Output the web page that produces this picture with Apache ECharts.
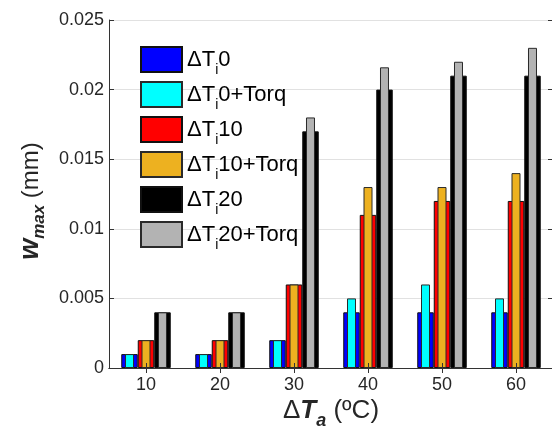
<!DOCTYPE html>
<html>
<head>
<meta charset="utf-8">
<script src="https://cdn.jsdelivr.net/npm/echarts@6/dist/echarts.min.js"></script>
<style>
  html, body { margin: 0; padding: 0; background: #fff; }
  #chart { width: 552px; height: 433px; }
</style>
</head>
<body>
<div id="chart"></div>
<script>
// Ambient temperature rise (x categories)
const categories = ['10', '20', '30', '40', '50', '60'];

// Maximum deflection w_max (mm) per case
const dTi0       = [0.001, 0.001, 0.002, 0.004, 0.004, 0.004];
const dTi0Torq   = [0.001, 0.001, 0.002, 0.005, 0.006, 0.005];
const dTi10      = [0.002, 0.002, 0.006, 0.011, 0.012, 0.012];
const dTi10Torq  = [0.002, 0.002, 0.006, 0.013, 0.013, 0.014];
const dTi20      = [0.004, 0.004, 0.017, 0.020, 0.021, 0.021];
const dTi20Torq  = [0.004, 0.004, 0.018, 0.0216, 0.022, 0.023];

const seriesNames = ['ΔTi0', 'ΔTi0+Torq', 'ΔTi10', 'ΔTi10+Torq', 'ΔTi20', 'ΔTi20+Torq'];
const yTickLabels = ['0', '0.005', '0.01', '0.015', '0.02', '0.025'];

const FONT = '"Liberation Sans", Arial, Helvetica, sans-serif';
const AXIS_COLOR = '#333333';
const TEXT_COLOR = '#262626';
const EDGE = '#111111';

// Wide bars sit on the bottom axis, the narrower "+Torq" bars on the top axis,
// centred on the same slots.
const WIDE = 16.5;
const NARROW = 9;
const narrowGap = ((WIDE - NARROW) / NARROW * 100).toFixed(2) + '%';

function wideBar(name, data, color) {
  return {
    name, type: 'bar', data, xAxisIndex: 0,
    barWidth: WIDE, barGap: '0%',
    itemStyle: { color, borderColor: EDGE, borderWidth: 1 },
    z: 2
  };
}
function narrowBar(name, data, color) {
  return {
    name, type: 'bar', data, xAxisIndex: 1,
    barWidth: NARROW, barGap: narrowGap,
    itemStyle: { color, borderColor: '#2a2a2a', borderWidth: 1 },
    z: 3
  };
}

// rich-text subscript, pushed below the baseline of the main text
function sub(fontSize, padTop, bold) {
  return {
    fontSize, fontFamily: FONT, color: TEXT_COLOR,
    fontWeight: bold ? 'bold' : 'normal', fontStyle: bold ? 'italic' : 'normal',
    verticalAlign: 'top', lineHeight: 1, padding: [padTop, 0, 0, 0]
  };
}

const chart = echarts.init(document.getElementById('chart'), null, { renderer: 'canvas' });

chart.setOption({
  animation: false,
  textStyle: { fontFamily: FONT },
  grid: {
    left: 109, top: 20, width: 444, bottom: 65,
    containLabel: false, outerBoundsMode: 'none'
  },
  legend: {
    orient: 'vertical',
    left: 135, top: 41,
    itemWidth: 41, itemHeight: 25, itemGap: 4,
    icon: 'rect',
    data: seriesNames,
    selectedMode: false,
    formatter: name => '{a|ΔT}{s|i}{a|' + name.slice(3) + '}',
    textStyle: {
      fontFamily: FONT, color: '#000',
      rich: {
        a: { fontSize: 22, fontFamily: FONT, color: '#000', lineHeight: 25, verticalAlign: 'middle' },
        s: Object.assign(sub(14, 16, false), { color: '#000' })
      }
    }
  },
  xAxis: [
    {
      type: 'category', data: categories, position: 'bottom', z: 10,
      axisLine: { show: true, lineStyle: { color: AXIS_COLOR, width: 1 } },
      axisTick: { show: true, inside: true, alignWithLabel: true, length: 5, lineStyle: { color: AXIS_COLOR } },
      axisLabel: { fontSize: 18, color: TEXT_COLOR, margin: 8, fontFamily: FONT },
      splitLine: { show: false },
      name: '{n|Δ}{b|T}{bs|a}{n| (ºC)}',
      nameLocation: 'middle', nameGap: 25, nameMoveOverlap: false,
      nameTextStyle: {
        rich: {
          n: { fontSize: 26, fontFamily: FONT, color: TEXT_COLOR, lineHeight: 36, verticalAlign: 'middle' },
          b: { fontSize: 26, fontFamily: FONT, fontWeight: 'bold', fontStyle: 'italic', color: TEXT_COLOR, lineHeight: 36, verticalAlign: 'middle' },
          bs: sub(18, 19, true)
        }
      }
    },
    {
      type: 'category', data: categories, position: 'top', z: 10,
      axisLine: { show: true, lineStyle: { color: AXIS_COLOR, width: 1 } },
      axisTick: { show: true, inside: true, alignWithLabel: true, length: 5, lineStyle: { color: AXIS_COLOR } },
      axisLabel: { show: false },
      splitLine: { show: false }
    }
  ],
  yAxis: [
    {
      type: 'value', min: 0, max: 0.025, interval: 0.005, position: 'left',
      axisLine: { show: true, lineStyle: { color: AXIS_COLOR, width: 1 } },
      axisTick: { show: true, inside: true, length: 5, lineStyle: { color: AXIS_COLOR } },
      axisLabel: {
        fontSize: 18, color: TEXT_COLOR, margin: 5, fontFamily: FONT,
        formatter: v => yTickLabels[Math.round(v / 0.005)]
      },
      splitLine: { show: true, lineStyle: { color: '#e1e1e1', width: 1 } },
      name: '{w|w}{ws|max}{n| (mm)}',
      nameLocation: 'middle', nameGap: 60, nameRotate: 90, nameMoveOverlap: false,
      nameTextStyle: {
        padding: [0, 14, 0, 0],
        rich: {
          w: { fontSize: 27, fontFamily: FONT, fontWeight: 'bold', fontStyle: 'italic', color: TEXT_COLOR, lineHeight: 36, verticalAlign: 'middle' },
          ws: sub(17, 18, true),
          n: { fontSize: 24, fontFamily: FONT, color: TEXT_COLOR, lineHeight: 36, verticalAlign: 'middle' }
        }
      }
    },
    {
      type: 'value', min: 0, max: 0.025, interval: 0.005, position: 'right',
      axisLine: { show: true, lineStyle: { color: AXIS_COLOR, width: 1 } },
      axisTick: { show: true, inside: true, length: 5, lineStyle: { color: AXIS_COLOR } },
      axisLabel: { show: false },
      splitLine: { show: false }
    }
  ],
  series: [
    wideBar(seriesNames[0], dTi0, '#0000ff'),
    narrowBar(seriesNames[1], dTi0Torq, '#00ffff'),
    wideBar(seriesNames[2], dTi10, '#ff0000'),
    narrowBar(seriesNames[3], dTi10Torq, '#edb120'),
    wideBar(seriesNames[4], dTi20, '#000000'),
    narrowBar(seriesNames[5], dTi20Torq, '#b3b3b3')
  ]
});
</script>
</body>
</html>
